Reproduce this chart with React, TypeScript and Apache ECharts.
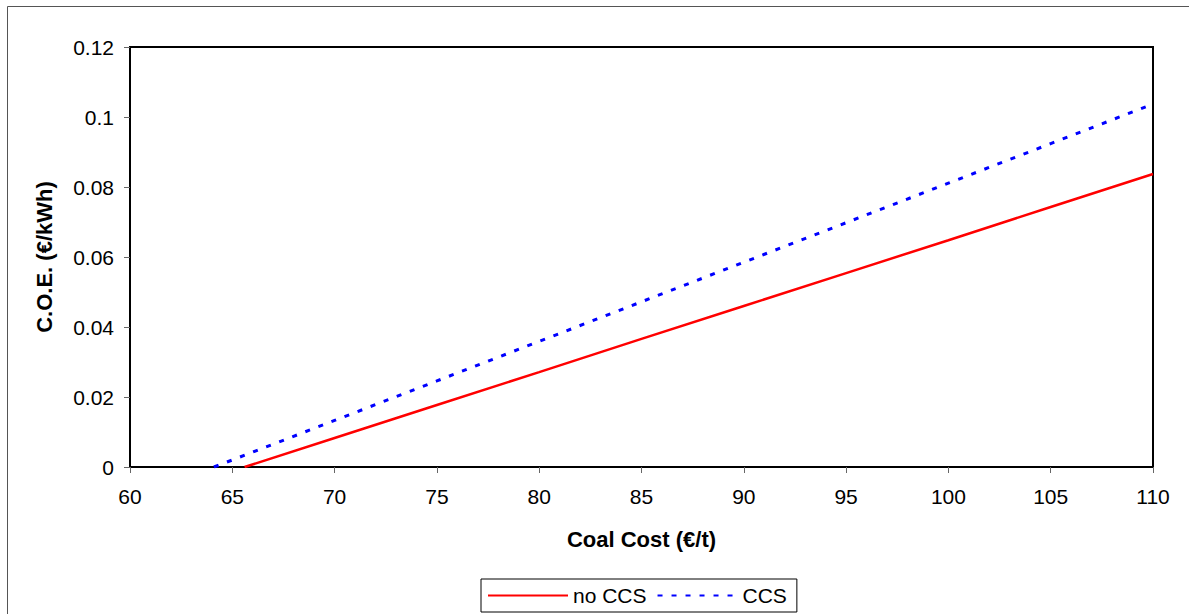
import React, { useEffect, useRef } from "react";
import * as echarts from "echarts";

const coalCost: number[] = [65.6, 70, 75, 80, 85, 90, 95, 100, 105, 110];
const coeNoCCS: number[] = [0, 0.0083, 0.0177, 0.0271, 0.0366, 0.046, 0.0554, 0.0648, 0.0743, 0.0837];
const coalCostCCS: number[] = [64.1, 65, 70, 75, 80, 85, 90, 95, 100, 105, 110];
const coeCCS: number[] = [0, 0.002, 0.0133, 0.0246, 0.0359, 0.0472, 0.0585, 0.0698, 0.0811, 0.0924, 0.1037];
const seriesNames = ["no CCS", "CCS"];
const xTitle = "Coal Cost (€/t)";
const yTitle = "C.O.E. (€/kWh)";

export default function App() {
  const ref = useRef<HTMLDivElement>(null);
  useEffect(() => {
    if (!ref.current) return;
    const chart = echarts.init(ref.current, undefined, { renderer: "svg" });
    const font = "Arial, 'Liberation Sans', sans-serif";
    chart.setOption({
      animation: false,
      textStyle: { fontFamily: font },
      graphic: [
        {
          type: "rect",
          shape: { x: 7.5, y: 6.5, width: 1300, height: 700 },
          style: { fill: "none", stroke: "#555", lineWidth: 1 },
          silent: true,
        },
      ],
      grid: { left: 130, top: 47, right: 36, bottom: 147, show: true, borderColor: "#000", borderWidth: 2, backgroundColor: "#fff" },
      legend: {
        bottom: 2,
        left: 481,
        data: seriesNames,
        itemWidth: 80,
        itemHeight: 14,
        itemGap: 10,
        padding: [6, 10, 6, 6],
        borderColor: "#000",
        borderWidth: 1,
        itemStyle: { opacity: 0 },
        textStyle: { fontSize: 21, color: "#000", fontFamily: font },
      },
      xAxis: {
        type: "value",
        min: 60,
        max: 110,
        interval: 5,
        name: xTitle,
        nameLocation: "middle",
        nameGap: 61,
        nameTextStyle: { fontSize: 22, fontWeight: "bold", color: "#000", fontFamily: font },
        axisLine: { show: true, lineStyle: { color: "#000", width: 2 } },
        axisTick: { show: true, inside: false, length: 6, lineStyle: { color: "#666", width: 1 } },
        axisLabel: { fontSize: 21, color: "#000", margin: 19, fontFamily: font },
        splitLine: { show: false },
      },
      yAxis: {
        type: "value",
        min: 0,
        max: 0.12,
        interval: 0.02,
        name: yTitle,
        nameLocation: "middle",
        nameGap: 75,
        nameRotate: 90,
        nameTextStyle: { fontSize: 22, fontWeight: "bold", color: "#000", fontFamily: font },
        axisLine: { show: true, lineStyle: { color: "#000", width: 2 } },
        axisTick: { show: true, inside: false, length: 6, lineStyle: { color: "#666", width: 1 } },
        axisLabel: { fontSize: 21, color: "#000", margin: 16, fontFamily: font },
        splitLine: { show: false },
      },
      series: [
        {
          name: seriesNames[0],
          type: "line",
          showSymbol: false,
          symbol: "none",
          data: coalCost.map((x, i) => [x, coeNoCCS[i]]),
          lineStyle: { color: "#ff0000", width: 2.5, type: "solid" },
          itemStyle: { color: "#ff0000" },
        },
        {
          name: seriesNames[1],
          type: "line",
          showSymbol: false,
          symbol: "none",
          data: coalCostCCS.map((x, i) => [x, coeCCS[i]]),
          lineStyle: { color: "#0000ff", width: 3, type: [5, 9] },
          itemStyle: { color: "#0000ff" },
        },
      ],
    });
    return () => chart.dispose();
  }, []);
  return (
    <div
      ref={ref}
      style={{ position: "absolute", left: 0, top: 0, width: 1189, height: 614, background: "#fff" }}
    />
  );
}
